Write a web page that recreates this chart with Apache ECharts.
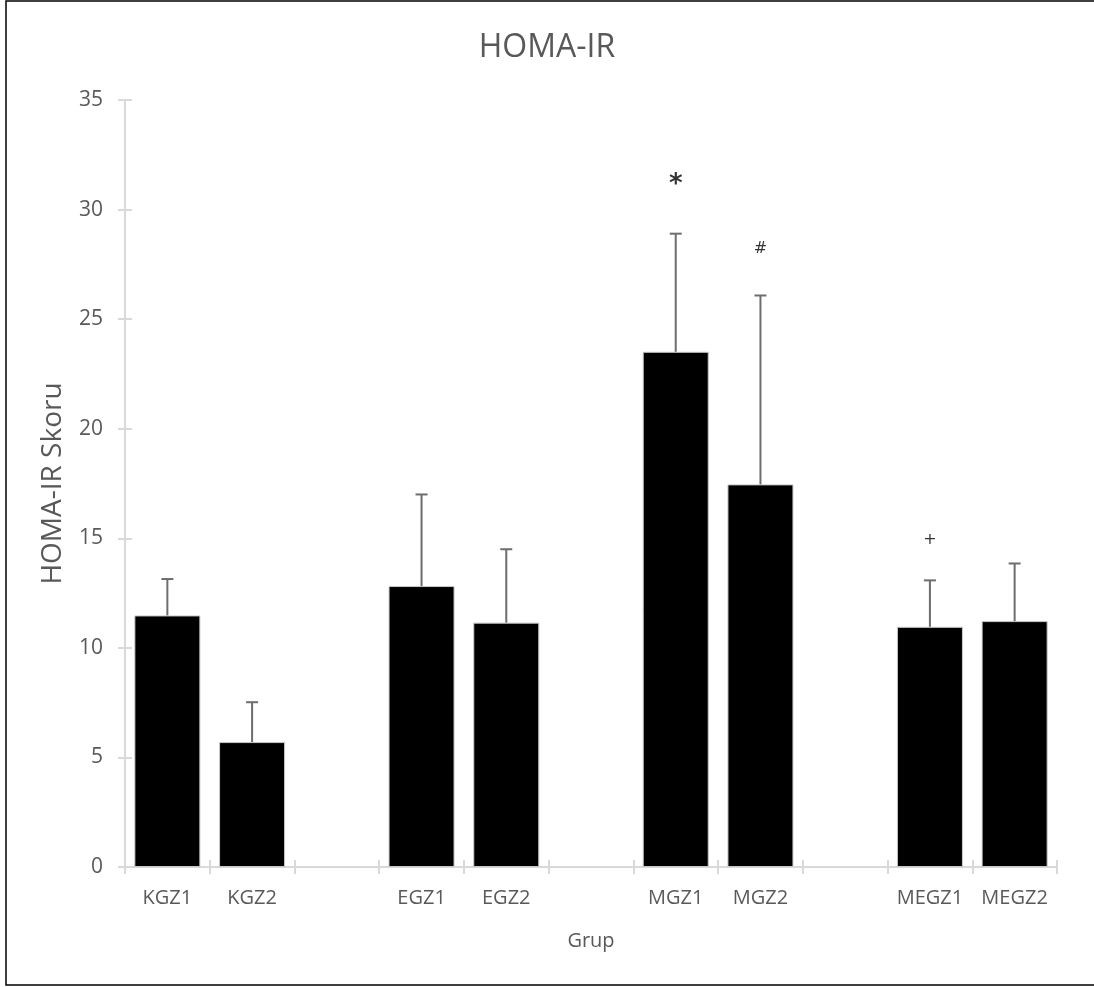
<!DOCTYPE html>
<html style="height: 100%">
<head>
<meta charset="utf-8">
<script src="https://cdn.jsdelivr.net/npm/echarts@6/dist/echarts.min.js"></script>
</head>
<body style="height: 100%; margin: 0; background: #fff">
<div id="container" style="width: 1094px; height: 987px"></div>
<script type="text/javascript">
// groups, with blank slots between the pairs
var groups = ['KGZ1', 'KGZ2', ' ', 'EGZ1', 'EGZ2', '  ', 'MGZ1', 'MGZ2', '   ', 'MEGZ1', 'MEGZ2'];
var means = [11.48, 5.70, null, 12.82, 11.15, null, 23.51, 17.46, null, 10.96, 11.22];
var upper = [13.14, 7.52, null, 17.0, 14.5, null, 28.9, 26.08, null, 13.08, 13.85];
// significance marks: [group index, height, text]
var marks = [[6, 31.1, '*'], [7, 28.2, '#'], [9, 14.95, '+']];

var font = 'Open Sans';
var grey = '#595959';

var dom = document.getElementById('container');
var myChart = echarts.init(dom);

var errData = [];
for (var i = 0; i < groups.length; i++) {
    if (means[i] != null) errData.push([i, means[i], upper[i]]);
}

var option = {
    animation: false,
    backgroundColor: '#fff',
    title: {
        text: 'HOMA-IR',
        left: 'center',
        top: 27,
        textStyle: { fontFamily: font, fontSize: 32, fontWeight: 'normal', color: grey }
    },
    grid: { left: 125, right: 37, top: 100, bottom: 120 },
    graphic: [{
        type: 'rect',
        shape: { x: 6, y: 1, width: 1200, height: 984 },
        style: { fill: null, stroke: '#000', lineWidth: 1.5 },
        silent: true
    }],
    xAxis: [{
        type: 'category',
        data: groups,
        name: 'Grup',
        nameLocation: 'middle',
        nameGap: 64,
        nameTextStyle: { fontFamily: font, fontSize: 20, color: grey },
        axisLine: { lineStyle: { color: '#d9d9d9', width: 2 } },
        axisTick: { show: true, length: 7, lineStyle: { color: '#d9d9d9', width: 2 } },
        axisLabel: { fontFamily: font, fontSize: 20, color: grey, margin: 21, interval: 0 }
    }, {
        type: 'category',
        data: groups,
        position: 'bottom',
        axisLine: { show: false },
        axisTick: { show: true, inside: true, length: 7, lineStyle: { color: '#d9d9d9', width: 2 } },
        axisLabel: { show: false }
    }],
    yAxis: [{
        type: 'value',
        min: 0,
        max: 35,
        interval: 5,
        name: 'HOMA-IR Skoru',
        nameLocation: 'middle',
        nameGap: 58,
        nameTextStyle: { fontFamily: font, fontSize: 28, color: grey },
        axisLine: { show: true, lineStyle: { color: '#d9d9d9', width: 2 } },
        axisTick: { show: true, length: 7, lineStyle: { color: '#d9d9d9', width: 2 } },
        axisLabel: { fontFamily: font, fontSize: 21, color: grey, margin: 22 },
        splitLine: { show: false }
    }, {
        type: 'value',
        min: 0,
        max: 35,
        interval: 5,
        position: 'left',
        axisLine: { show: false },
        axisTick: { show: true, inside: true, length: 7, lineStyle: { color: '#d9d9d9', width: 2 } },
        axisLabel: { show: false },
        splitLine: { show: false }
    }],
    series: [{
        type: 'bar',
        data: means,
        barWidth: 66,
        itemStyle: { color: '#000', borderColor: '#c8c8c8', borderWidth: 1 }
    }, {
        type: 'custom',
        data: errData,
        z: 3,
        renderItem: function (params, api) {
            var top = api.coord([api.value(0), api.value(2)]);
            var base = api.coord([api.value(0), api.value(1)]);
            var style = { stroke: '#6d6d6d', lineWidth: 2 };
            return {
                type: 'group',
                children: [{
                    type: 'line',
                    shape: { x1: top[0], y1: base[1], x2: top[0], y2: top[1] },
                    style: style
                }, {
                    type: 'line',
                    shape: { x1: top[0] - 6, y1: top[1], x2: top[0] + 6, y2: top[1] },
                    style: style
                }]
            };
        }
    }, {
        type: 'scatter',
        symbolSize: 0,
        data: marks.map(function (m) {
            var big = m[2] === '*';
            return {
                value: [m[0], m[1]],
                name: m[2],
                label: { fontSize: big ? 26 : 16, fontWeight: big ? 'bold' : 'normal' }
            };
        }),
        label: {
            show: true,
            position: 'inside',
            color: '#000',
            fontFamily: 'DejaVu Sans',
            formatter: function (p) { return p.name; }
        }
    }]
};

myChart.setOption(option);
</script>
</body>
</html>
